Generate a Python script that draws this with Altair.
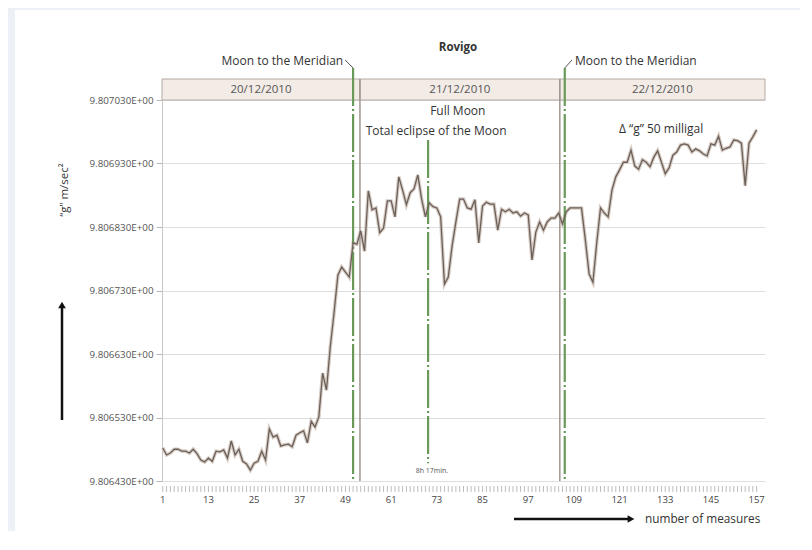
import altair as alt
import pandas as pd

# ---------------- data ----------------
measures = list(range(1, 158))
# gravity readings, offset from 9.806430 m/s^2 in units of 1e-6 m/s^2
offsets = [52, 41, 44, 50, 50, 47, 47, 44, 50, 43,
           33, 30, 36, 31, 47, 46, 49, 36, 63, 41,
           50, 31, 27, 17, 28, 31, 47, 33, 82, 69,
           72, 55, 57, 58, 54, 72, 76, 79, 60, 94,
           85, 101, 170, 143, 211, 265, 324, 337, 329, 321,
           375, 373, 394, 362, 457, 427, 430, 391, 398, 441,
           441, 416, 479, 458, 435, 454, 460, 482, 444, 416,
           438, 432, 430, 416, 310, 321, 370, 408, 444, 444,
           430, 428, 443, 375, 433, 439, 436, 436, 395, 428,
           424, 428, 422, 424, 417, 422, 419, 348, 392, 408,
           395, 408, 414, 414, 422, 405, 424, 430, 430, 430,
           430, 380, 326, 313, 375, 430, 422, 416, 458, 479,
           490, 502, 502, 521, 496, 491, 506, 502, 495, 510,
           520, 502, 484, 493, 513, 518, 529, 531, 529, 518,
           523, 520, 515, 512, 531, 529, 543, 521, 524, 526,
           537, 536, 532, 465, 532, 542, 553]
BASE = 9.806430
g_values = [round(BASE + d * 1e-6, 6) for d in offsets]

y_ticks = [9.80643, 9.80653, 9.80663, 9.80673, 9.80683, 9.80693, 9.80703]
x_minor_ticks = list(range(1, 158))
x_labels = [1, 13, 25, 37, 49, 61, 73, 85, 97, 109, 121, 133, 145, 157]

days = ["20/12/2010", "21/12/2010", "22/12/2010"]
day_start = [0.8, 52.8, 105.3]
day_end = [52.8, 105.3, 159.2]
day_mid = [(a + b) / 2 for a, b in zip(day_start, day_end)]
separators = [52.8, 105.3]

meridian_n = [51.0, 106.6]
eclipse_n = [70.7]
eclipse_top = [9.806967]
eclipse_bottom = [9.806458]

notes = ["Full Moon", "Total eclipse of the Moon", "Δ “g”  50 milligal"]
note_n = [78.5, 72.8, 131.9]
note_g = [9.807013, 9.806981, 9.806984]

W, H = 603, 381
xscale = alt.Scale(domain=[0.8, 159.2], nice=False, zero=False)
yscale = alt.Scale(domain=[9.80643, 9.80703], nice=False, zero=False)

df = pd.DataFrame({"n": measures, "g": g_values})
one = pd.DataFrame({"k": [0]})

xaxis = alt.Axis(labels=False, ticks=False, domain=False, grid=False, title="")
yaxis = alt.Axis(values=y_ticks, labelExpr="format(datum.value, '.6f') + 'E+00'",
                 grid=True, gridColor="#dedede", domainColor="#c8c8c8", tickColor="#b8b8b8",
                 tickSize=6, labelPadding=3, labelFontSize=9.8, labelColor="#555", title="")

# background frame stripes
stripe = alt.Chart(one).mark_rect(color="#eef0f8").encode(
    x=alt.value(-154), x2=alt.value(-147), y=alt.value(-92), y2=alt.value(431))
topline = alt.Chart(one).mark_rect(color="#eef0f8").encode(
    x=alt.value(-154), x2=alt.value(638), y=alt.value(-92), y2=alt.value(-90))

halo = alt.Chart(df).mark_line(color="#d8cdc5", strokeWidth=3.6).encode(
    x=alt.X("n:Q", scale=xscale, axis=xaxis),
    y=alt.Y("g:Q", scale=yscale, axis=yaxis))
line = alt.Chart(df).mark_line(color="#6b605a", strokeWidth=1.3).encode(x="n:Q", y="g:Q")

# x ticks and labels
xt = alt.Chart(pd.DataFrame({"t": x_minor_ticks})).mark_rule(color="#bdbdbd", strokeWidth=1).encode(
    x="t:Q", y=alt.value(386), y2=alt.value(392))
xl = alt.Chart(pd.DataFrame({"t": x_labels})).mark_text(fontSize=9.5, color="#444", baseline="middle").encode(
    x="t:Q", y=alt.value(400), text="t:Q")

band_df = pd.DataFrame({"day": days, "start": day_start, "end": day_end, "mid": day_mid})
band = alt.Chart(band_df).mark_rect(fill="#f3ebe6", stroke="#b4aaa3", strokeWidth=1).encode(
    x="start:Q", x2="end:Q", y=alt.value(-21), y2=alt.value(0))
band_text = alt.Chart(band_df).mark_text(fontSize=11.5, color="#555").encode(
    x="mid:Q", y=alt.value(-10.5), text="day:N")

sep = alt.Chart(pd.DataFrame({"s": separators})).mark_rule(color="#a0968f", strokeWidth=1.5).encode(
    x="s:Q", y=alt.value(-21), y2=alt.value(381))

green = "#6a9a5a"
mer = alt.Chart(pd.DataFrame({"m": meridian_n})).mark_rule(
    color=green, strokeWidth=2.2, strokeDash=[38, 3, 2, 3]).encode(
    x="m:Q", y=alt.value(-32), y2=alt.value(381))
ecl = alt.Chart(pd.DataFrame({"m": eclipse_n, "a": eclipse_top, "b": eclipse_bottom})).mark_rule(
    color=green, strokeWidth=2.2, strokeDash=[38, 3, 2, 3]).encode(
    x="m:Q", y="a:Q", y2="b:Q")

lead_l = alt.Chart(pd.DataFrame({"a": [48.9], "b": [51.0]})).mark_rule(color="#555", strokeWidth=1).encode(
    x="a:Q", x2="b:Q", y=alt.value(-40), y2=alt.value(-32))
lead_r = alt.Chart(pd.DataFrame({"a": [106.6], "b": [108.5]})).mark_rule(color="#555", strokeWidth=1).encode(
    x="a:Q", x2="b:Q", y=alt.value(-32), y2=alt.value(-40))

mer_l = alt.Chart(pd.DataFrame({"a": [48.4], "t": ["Moon to the Meridian"]})).mark_text(
    align="right", fontSize=12, color="#333").encode(x="a:Q", y=alt.value(-39), text="t:N")
mer_r = alt.Chart(pd.DataFrame({"a": [109.3], "t": ["Moon to the Meridian"]})).mark_text(
    align="left", fontSize=12, color="#333").encode(x="a:Q", y=alt.value(-39), text="t:N")

notes_df = pd.DataFrame({"t": notes, "n": note_n, "g": note_g})
note_text = alt.Chart(notes_df).mark_text(fontSize=12, color="#333").encode(
    x="n:Q", y="g:Q", text="t:N")
small = alt.Chart(pd.DataFrame({"t": ["8h 17min."], "n": [71.7], "g": [9.806446]})).mark_text(
    fontSize=7, color="#555").encode(x="n:Q", y="g:Q", text="t:N")

title = alt.Chart(pd.DataFrame({"t": ["Rovigo"]})).mark_text(
    fontSize=11.5, fontWeight="bold", color="#333").encode(
    x=alt.value(296), y=alt.value(-52), text="t:N")
ytitle = alt.Chart(pd.DataFrame({"t": ["“g” m/sec²"]})).mark_text(
    fontSize=11.5, angle=270, color="#333").encode(x=alt.value(-97), y=alt.value(90), text="t:N")
xtitle = alt.Chart(pd.DataFrame({"t": ["number of measures"]})).mark_text(
    fontSize=11.8, align="left", color="#333").encode(x=alt.value(483), y=alt.value(419), text="t:N")

v_arrow = alt.Chart(one).mark_rule(color="#111", strokeWidth=2.5).encode(
    x=alt.value(-100), y=alt.value(208), y2=alt.value(320))
v_head = alt.Chart(one).mark_point(shape="triangle-up", filled=True, size=60, color="#111", opacity=1).encode(
    x=alt.value(-100), y=alt.value(205))
h_arrow = alt.Chart(one).mark_rule(color="#111", strokeWidth=2.5).encode(
    x=alt.value(352), x2=alt.value(466), y=alt.value(419))
h_head = alt.Chart(one).mark_point(shape="triangle-right", filled=True, size=60, color="#111", opacity=1).encode(
    x=alt.value(469), y=alt.value(419))

chart = alt.layer(
    halo, stripe, topline, xt, xl, band, band_text, sep, mer, ecl, line,
    lead_l, lead_r, mer_l, mer_r, note_text, small, title, ytitle, xtitle,
    v_arrow, v_head, h_arrow, h_head
).properties(
    width=W, height=H,
    padding={"left": 154, "top": 92, "right": 35, "bottom": 50},
    autosize=alt.AutoSizeParams(type="none"),
    background="white",
).configure(font="Open Sans").configure_view(strokeWidth=0)

chart.save("out.html", embed_options={"renderer": "svg", "actions": False})
